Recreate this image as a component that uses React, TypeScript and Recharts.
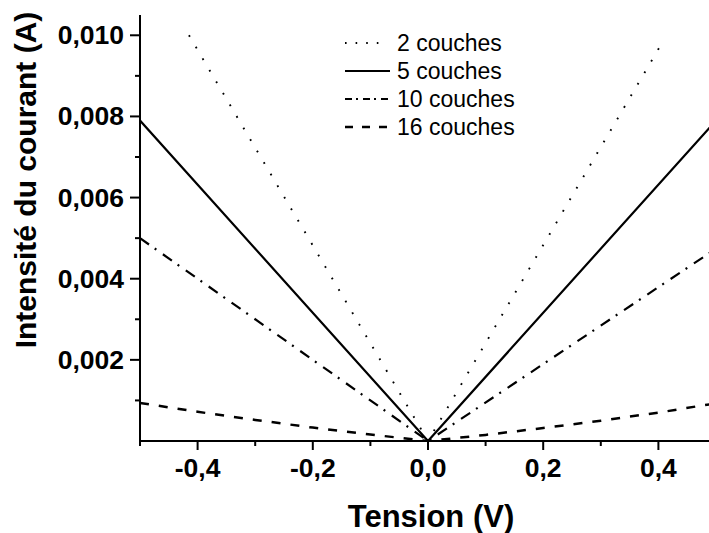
import { LineChart, Line, XAxis, YAxis, Legend } from 'recharts';

// Voltage (V) and current (A), one pair of arrays per layer count
const voltage2 = [-0.415, 0, 0.41];
const current2 = [0.01, 0, 0.0099];

const voltage5 = [-0.5, 0, 0.5];
const current5 = [0.0079, 0, 0.0079];

const voltage10 = [-0.5, 0, 0.5];
const current10 = [0.005, 0, 0.00474];

const voltage16 = [-0.5, -0.4, -0.3, -0.2, -0.1, 0, 0.1, 0.2, 0.3, 0.4, 0.5];
const current16 = [0.00094, 0.00072, 0.00052, 0.00033, 0.00016, 0, 0.00015, 0.00032, 0.0005, 0.0007, 0.00093];

const xTicks = [-0.5, -0.4, -0.3, -0.2, -0.1, 0, 0.1, 0.2, 0.3, 0.4, 0.5];
const yTicks = [0.001, 0.002, 0.003, 0.004, 0.005, 0.006, 0.007, 0.008, 0.009, 0.01];

const seriesNames = ['2 couches', '5 couches', '10 couches', '16 couches'];

const FONT = '"Liberation Sans", Arial, sans-serif';

const toPoints = (xs: number[], ys: number[]) => xs.map((v, k) => ({ v, i: ys[k] }));

const series = [
  { name: seriesNames[0], data: toPoints(voltage2, current2), dash: '1.8 11.6', width: 1.9, sampleDash: '1.6 9', sampleEnd: 38 },
  { name: seriesNames[1], data: toPoints(voltage5, current5), dash: undefined, width: 2.2, sampleDash: undefined, sampleEnd: 45 },
  { name: seriesNames[2], data: toPoints(voltage10, current10), dash: '11 7 2 8', width: 2.2, sampleDash: '7 4 2 5', sampleEnd: 45 },
  { name: seriesNames[3], data: toPoints(voltage16, current16), dash: '9 10', width: 2.5, sampleDash: '8 9', sampleEnd: 45 },
];

const isMajorX = (v: number) => Math.abs(Math.round(v * 10)) % 2 === 0 && Math.abs(v) < 0.45;
const isMajorY = (v: number) => Math.round(v * 1000) % 2 === 0;

const fmtX = (v: number) => (Math.abs(v) < 1e-9 ? '0,0' : v.toFixed(1).replace('.', ','));
const fmtY = (v: number) => v.toFixed(3).replace('.', ',');

const BottomTick = (props: any) => {
  const { x, y, payload } = props;
  const major = isMajorX(payload.value);
  return (
    <g>
      <line x1={x} x2={x} y1={y} y2={y + (major ? 9 : 5)} stroke="#000" strokeWidth={2} />
      {major && (
        <text x={x} y={y + 36} textAnchor="middle" fontFamily={FONT} fontWeight="bold" fontSize={26.5} fill="#000">
          {fmtX(payload.value)}
        </text>
      )}
    </g>
  );
};

const TopTick = (props: any) => {
  const { x, y } = props;
  return <line x1={x} x2={x} y1={y} y2={y + 3} stroke="#000" strokeWidth={1.5} />;
};

const LeftTick = (props: any) => {
  const { x, y, payload } = props;
  const major = isMajorY(payload.value);
  return (
    <g>
      <line x1={x} x2={x - (major ? 10 : 5)} y1={y} y2={y} stroke="#000" strokeWidth={2} />
      {major && (
        <text x={x - 16} y={y + 9} textAnchor="end" fontFamily={FONT} fontWeight="bold" fontSize={26.5} fill="#000">
          {fmtY(payload.value)}
        </text>
      )}
    </g>
  );
};

const YTitle = (props: any) => {
  const vb = props.viewBox;
  const cx = vb.x + 36;
  const cy = vb.y + 165;
  return (
    <text
      x={cx}
      y={cy}
      transform={`rotate(-90, ${cx}, ${cy})`}
      textAnchor="middle"
      fontFamily={FONT}
      fontWeight="bold"
      fontSize={30}
      fill="#000"
    >
      Intensité du courant (A)
    </text>
  );
};

const XTitle = (props: any) => {
  const vb = props.viewBox;
  return (
    <text x={vb.x + 291} y={vb.y + 86} textAnchor="middle" fontFamily={FONT} fontWeight="bold" fontSize={31} fill="#000">
      Tension (V)
    </text>
  );
};

const LegendBox = () => (
  <div style={{ fontFamily: FONT, fontSize: 23, color: '#000' }}>
    {series.map((s) => (
      <div key={s.name} style={{ display: 'flex', alignItems: 'center', height: 28, lineHeight: '28px' }}>
        <svg width={52} height={28} style={{ display: 'block' }}>
          <line x1={0} x2={s.sampleEnd} y1={14} y2={14} stroke="#000" strokeWidth={s.width} strokeDasharray={s.sampleDash} />
        </svg>
        <span>{s.name}</span>
      </div>
    ))}
  </div>
);

export default function App() {
  return (
    <div style={{ position: 'absolute', left: 0, top: 0, width: 709, height: 533, overflow: 'hidden', background: '#fff' }}>
      <LineChart width={760} height={533} margin={{ top: 15, right: 44, bottom: 0, left: 0 }}>
        <XAxis
          dataKey="v"
          type="number"
          domain={[-0.5, 0.5]}
          ticks={xTicks}
          interval={0}
          allowDataOverflow
          height={92}
          tickSize={0}
          tickMargin={0}
          tickLine={false}
          axisLine={{ stroke: '#000', strokeWidth: 2 }}
          tick={BottomTick}
          label={XTitle}
        />
        <XAxis
          xAxisId="top"
          orientation="top"
          dataKey="v"
          type="number"
          domain={[-0.5, 0.5]}
          ticks={xTicks}
          interval={0}
          height={0}
          tickSize={0}
          tickMargin={0}
          tickLine={false}
          axisLine={{ stroke: '#000', strokeWidth: 2 }}
          tick={TopTick}
        />
        <YAxis
          type="number"
          domain={[0, 0.0105]}
          ticks={yTicks}
          interval={0}
          allowDataOverflow
          width={140}
          tickSize={0}
          tickMargin={0}
          tickLine={false}
          axisLine={{ stroke: '#000', strokeWidth: 2 }}
          tick={LeftTick}
          label={YTitle}
        />
        <Legend
          layout="vertical"
          align="center"
          verticalAlign="middle"
          content={LegendBox}
          wrapperStyle={{ position: 'absolute', left: 345, top: 29, width: 'auto', height: 'auto' }}
        />
        {series.map((s) => (
          <Line
            key={s.name}
            name={s.name}
            data={s.data}
            dataKey="i"
            type="linear"
            stroke="#000"
            strokeWidth={s.width}
            strokeDasharray={s.dash}
            dot={false}
            activeDot={false}
            isAnimationActive={false}
          />
        ))}
      </LineChart>
    </div>
  );
}
